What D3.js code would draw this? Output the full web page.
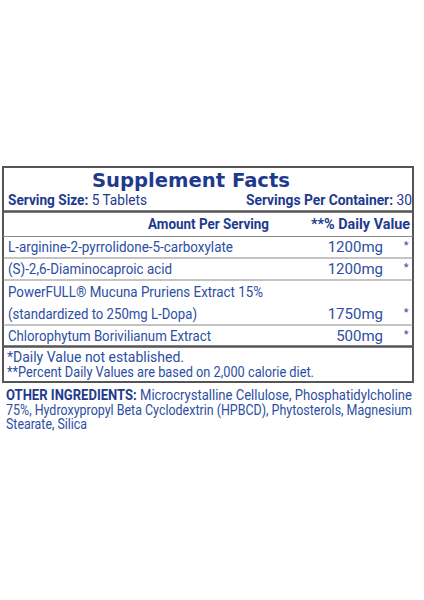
<!DOCTYPE html>
<html><head><meta charset="utf-8">
<script src="https://cdn.jsdelivr.net/npm/d3@7"></script>
<style>body{margin:0;background:#fff}text{font-family:Roboto,"Liberation Sans",sans-serif}</style>
</head><body>
<script>
// label data
const ingredients = ["L-arginine-2-pyrrolidone-5-carboxylate", "(S)-2,6-Diaminocaproic acid", "PowerFULL® Mucuna Pruriens Extract 15%|(standardized to 250mg L-Dopa)", "Chlorophytum Borivilianum Extract"];
const amounts = ["1200mg", "1200mg", "1750mg", "500mg"];
const dailyValues = ["*", "*", "*", "*"];
const footnotes = ["*Daily Value not established.", "**Percent Daily Values are based on 2,000 calorie diet."];
const otherLines = ["Microcrystalline Cellulose, Phosphatidylcholine", "75%, Hydroxypropyl Beta Cyclodextrin (HPBCD), Phytosterols, Magnesium", "Stearate, Silica"];

// layout: rendered widths measured off the label
const nameWidths = [[225], [164], [255, 189], [203]];
const footWidths = [177, 307];
const otherWidths = [406, 406, 81];

const blue = "#1e3a8f", body = "#2c4ea3", grey = "#555";
const svg = d3.select("body").append("svg").attr("width", 424).attr("height", 600);

function fit(sel, w) {
  return sel.attr("textLength", w).attr("lengthAdjust", "spacingAndGlyphs");
}

const rowEdges = [236.5, 258, 280, 325, 346.5];
const L = 3, R = 413;

svg.append("rect").attr("x", L).attr("y", 167).attr("width", R - L).attr("height", 215)
  .attr("fill", "none").attr("stroke", grey).attr("stroke-width", 2);
svg.append("line").attr("x1", L).attr("x2", R).attr("y1", 211.5).attr("y2", 211.5).attr("stroke", grey).attr("stroke-width", 2.5);
svg.selectAll(".rl").data(rowEdges).enter().append("line")
  .attr("x1", L).attr("x2", R).attr("y1", d => d).attr("y2", d => d)
  .attr("stroke", (d, i) => i === 4 ? grey : "#888").attr("stroke-width", (d, i) => i === 4 ? 2.5 : 1);

fit(svg.append("text").attr("x", 92).attr("y", 187)
  .style("font-family", "DejaVu Sans")
  .attr("font-size", 20).attr("font-weight", "bold").attr("fill", blue).text("Supplement Facts"), 198);

const t1 = fit(svg.append("text").attr("x", 8).attr("y", 205).attr("font-size", 14.5).attr("fill", blue), 139);
t1.append("tspan").attr("font-weight", "bold").text("Serving Size: ");
t1.append("tspan").text("5 Tablets");
const t2 = fit(svg.append("text").attr("x", 246).attr("y", 205).attr("font-size", 14.5).attr("fill", blue), 166);
t2.append("tspan").attr("font-weight", "bold").text("Servings Per Container: ");
t2.append("tspan").text("30");

fit(svg.append("text").attr("x", 148).attr("y", 229).attr("font-size", 14.5)
  .attr("font-weight", "bold").attr("fill", blue).text("Amount Per Serving"), 121);
fit(svg.append("text").attr("x", 311).attr("y", 229).attr("font-size", 14.5)
  .attr("font-weight", "bold").attr("fill", blue).text("**% Daily Value"), 99);

const rowBots = [258, 280, 325, 346.5];
ingredients.forEach((name, i) => {
  const parts = name.split("|");
  const last = rowBots[i] - 6;
  parts.forEach((p, j) => {
    fit(svg.append("text").attr("x", 8).attr("y", last - (parts.length - 1 - j) * 22)
      .attr("font-size", 15).attr("fill", body).text(p), nameWidths[i][j]);
  });
  svg.append("text").attr("x", 383).attr("y", last).attr("text-anchor", "end")
    .attr("font-size", 15).attr("fill", body).text(amounts[i]);
  svg.append("text").attr("x", 406).attr("y", last - 3).attr("text-anchor", "middle")
    .attr("font-size", 11).attr("fill", body).text(dailyValues[i]);
});

footnotes.forEach((f, i) => {
  fit(svg.append("text").attr("x", 7).attr("y", 362 + i * 14.5).attr("font-size", 14.5)
    .attr("fill", body).text(f), footWidths[i]);
});

otherLines.forEach((l, i) => {
  const t = fit(svg.append("text").attr("x", 6).attr("y", 400 + i * 14.5).attr("font-size", 14).attr("fill", body), otherWidths[i]);
  if (i === 0) t.append("tspan").attr("font-weight", "bold").attr("fill", blue).text("OTHER INGREDIENTS: ");
  t.append("tspan").text(l);
});
</script>
</body></html>
